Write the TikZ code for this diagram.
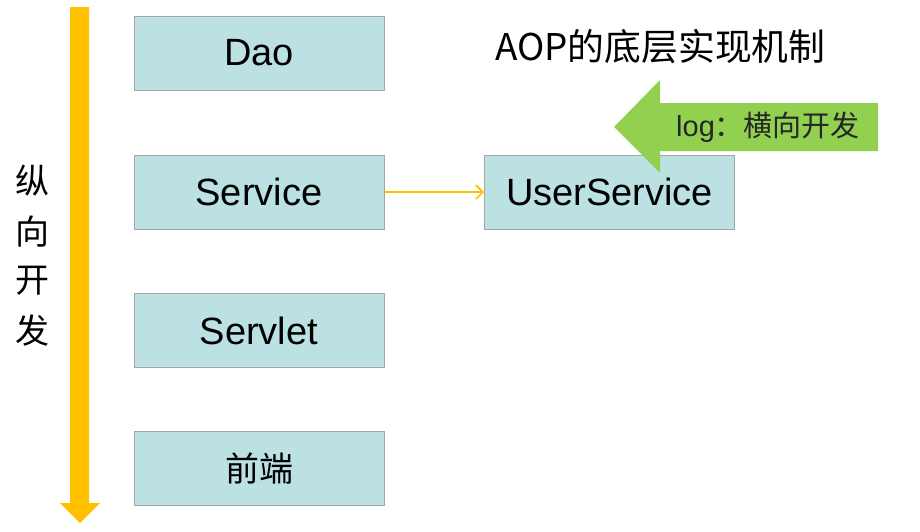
\documentclass[tikz,border=0pt]{standalone}
\usepackage{fontspec}
\setmainfont{Liberation Sans}
\newfontfamily\cjk{Noto Sans CJK SC}
\usetikzlibrary{arrows.meta}
\definecolor{boxfill}{HTML}{BCE1E3}
\definecolor{boxline}{HTML}{A6A6A6}
\definecolor{orangec}{HTML}{FFC000}
\definecolor{greenc}{HTML}{92D050}
\begin{document}
\begin{tikzpicture}[x=1pt,y=-1pt,
  layer/.style={draw=boxline,line width=1pt,fill=boxfill,minimum width=250pt,minimum height=74pt,inner sep=0pt,font=\fontsize{38}{40}\selectfont},
  cjklabel/.style={font=\cjk\fontsize{34}{36}\selectfont}]
\useasboundingbox (0,0) rectangle (920,531);
% vertical arrow
\fill[orangec] (70,7) -- (89,7) -- (89,503) -- (100,503) -- (80,523) -- (60,503) -- (70,503) -- cycle;
% vertical label
\node[cjklabel,inner sep=0pt] (v1) at (32,181) {纵};
\node[cjklabel,inner sep=0pt] (v2) at (32,232) {向};
\node[cjklabel,inner sep=0pt] (v3) at (32,281) {开};
\node[cjklabel,inner sep=0pt] (v4) at (32,331) {发};
% boxes
\node[layer] (dao) at (259,53) {Dao};
\node[layer] (service) at (259,192) {Service};
\node[layer] (servlet) at (259,330.5) {Servlet};
\node[layer,font=\cjk\fontsize{34}{36}\selectfont] (front) at (259,468.5) {前端};
\node[layer] (user) at (609.5,192) {UserService};
\draw[orangec,line width=1.6pt,-{Straight Barb[length=7pt,width=14pt]}] (service.east) -- (user.west);
% title
\node[font=\cjk\fontsize{36.8}{40}\selectfont,anchor=west,inner sep=0pt] (title) at (495,47) {AOP的底层实现机制};
% green arrow
\fill[greenc] (614,127) -- (660,80) -- (660,103) -- (878,103) -- (878,151) -- (660,151) -- (660,173) -- cycle;
\node[font=\cjk\fontsize{29}{31}\selectfont,anchor=west,inner sep=0pt,text=black!85] (log) at (676,127) {{\fontspec{Liberation Sans}log}：横向开发};
\end{tikzpicture}
\end{document}
